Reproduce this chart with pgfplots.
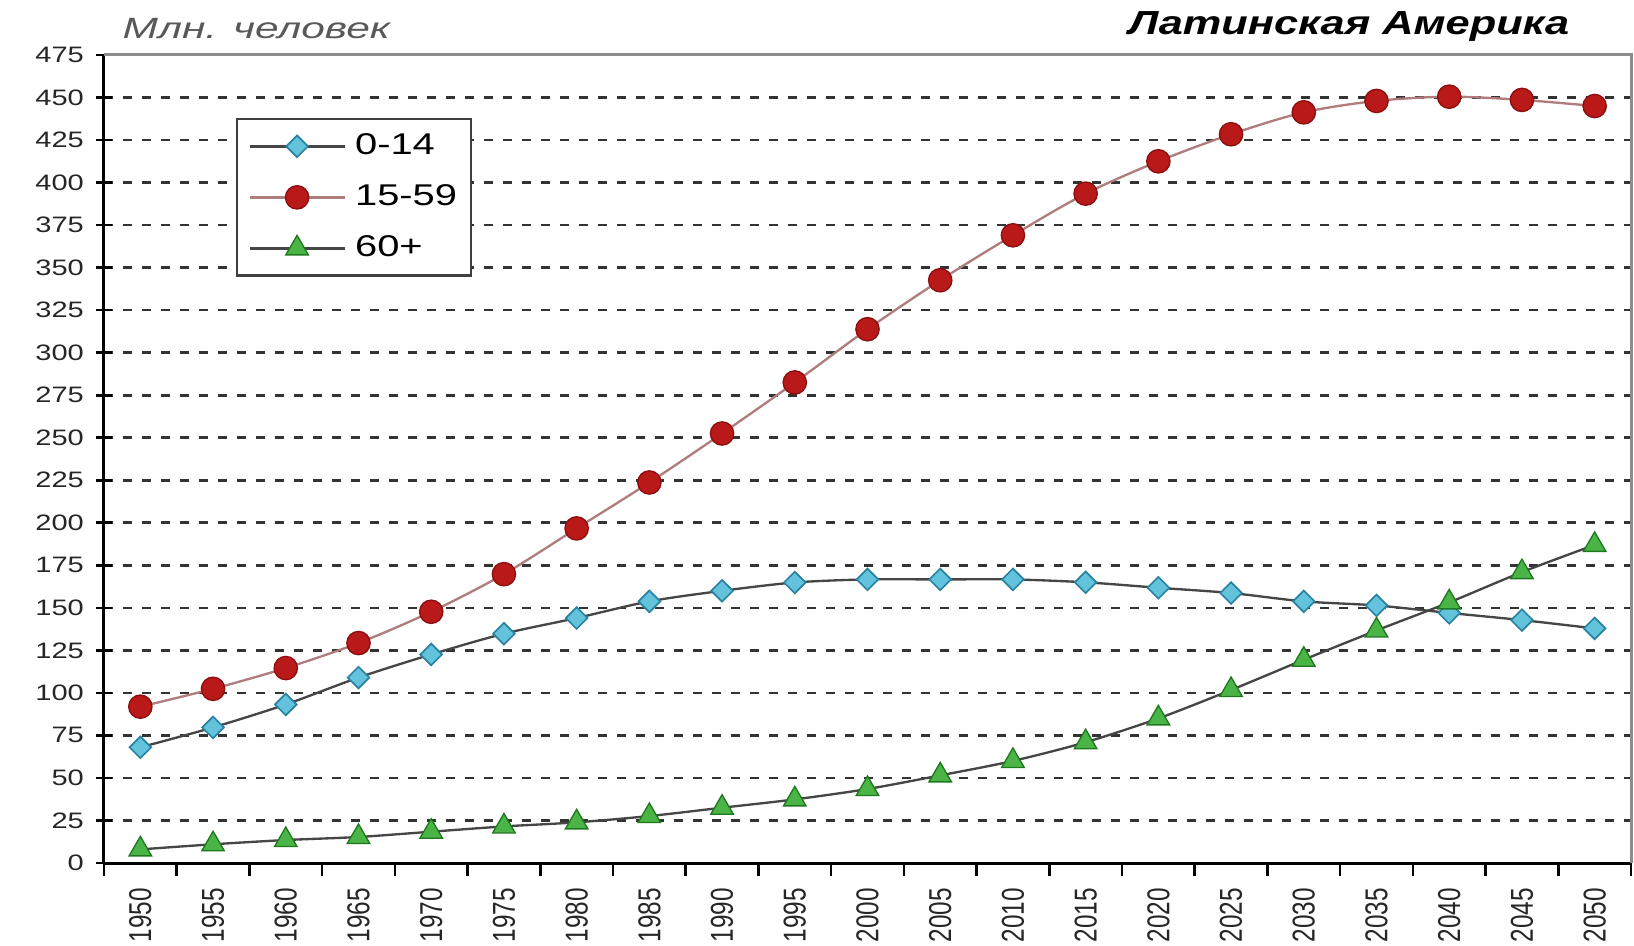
\documentclass[border=0pt]{standalone}
\usepackage{fontspec}
\setmainfont{Liberation Sans}[FakeStretch=1.3]
\newfontfamily\psans{Liberation Sans}
\newfontfamily\legfont{Liberation Sans}[FakeStretch=1.33]
\newfontfamily\capfont{Liberation Sans}[FakeStretch=1.45]
\usepackage{graphicx}
\usepackage{pgfplots}
\usepackage{pgfplotstable}
\pgfplotsset{compat=1.18}
\definecolor{cyanfill}{RGB}{100,195,220}
\definecolor{cyanedge}{RGB}{40,130,160}
\definecolor{redfill}{RGB}{185,25,25}
\definecolor{rededge}{RGB}{140,15,15}
\definecolor{greenfill}{RGB}{75,180,70}
\definecolor{greenedge}{RGB}{30,120,30}
\definecolor{redline}{RGB}{175,125,125}
\definecolor{darkline}{RGB}{70,70,70}

\pgfplotstableread{
year a b c
1950 68.0 91.9 8.0
1955 79.7 102.4 11.0
1960 93.2 114.6 13.5
1965 109.0 129.3 15.3
1970 122.6 147.7 18.4
1975 134.8 169.8 21.5
1980 144.0 196.7 23.9
1985 153.8 223.7 27.6
1990 160.0 252.5 32.5
1995 164.9 282.5 37.4
2000 166.7 313.8 43.5
2005 166.7 342.6 51.5
2010 166.7 369.0 60.0
2015 165.0 393.5 71.0
2020 161.8 412.5 85.0
2025 158.7 428.4 101.7
2030 153.8 441.3 119.5
2035 151.4 448.0 136.7
2040 147.0 450.5 153.2
2045 142.8 448.6 171.0
2050 137.9 445.0 187.0
}\data

\begin{document}
\begin{tikzpicture}
\begin{axis}[
  name=ax,
  scale only axis,
  width=458.1pt, height=242.4pt,
  xmin=1947.5, xmax=2052.5,
  ymin=0, ymax=475,
  axis x line*=bottom, axis y line*=left,
  axis line style={black, line width=0.9pt},
  /pgf/number format/assume math mode=true,
  xtick={1950,1955,...,2050},
  xticklabel={\scalebox{1}[1.3]{\psans\pgfmathprintnumber[fixed,precision=0,1000 sep={}]{\tick}}},
  xticklabel style={rotate=90, anchor=east, font=\fontsize{7.3}{8}\selectfont, color=black!85, xshift=-1.5pt},
  xtick style={draw=none},
  ytick={0,25,...,450},
  extra y ticks={475},
  extra y tick style={grid=none},
  yticklabel style={font=\fontsize{6.7}{8}\selectfont, color=black!85},
  ytick style={draw=black, line width=0.8pt},
  tick align=center,
  major tick length=5pt,
  ymajorgrids,
  major grid style={black!80, line width=0.8pt, dash pattern=on 2.7pt off 3pt},
  legend style={at={(axis description cs:0.0864,0.922)}, anchor=north west,
    draw=black!75, line width=0.7pt, fill=white,
    font=\fontsize{9}{10}\selectfont\legfont,
    inner xsep=3.4pt, inner ysep=0.5pt, row sep=0pt, column sep=2pt,
    nodes={inner xsep=0.8pt, inner ysep=3.15pt, text height=7pt, text depth=2pt}},
  legend cell align=left,
  legend image code/.code={\draw[mark repeat=2,mark phase=2,#1] plot coordinates {(0pt,0pt) (14.25pt,0pt) (28.5pt,0pt)};},
  after end axis/.code={
    \draw[black!45, line width=0.9pt] (rel axis cs:0,1) -- (rel axis cs:1,1) -- (rel axis cs:1,0);
    \foreach \xx in {1947.5,1952.5,...,2052.5} {\draw[black, line width=0.8pt] (axis cs:\xx,0) -- ++(0,-3.8pt);}
  },
]
\addplot[darkline, line width=0.7pt, smooth, tension=0.5, mark=square*, mark size=2.3pt,
  mark options={rotate=45, fill=cyanfill, draw=cyanedge, line width=0.5pt, solid}] table[x=year,y=a] {\data};
\addlegendentry{0-14}
\addplot[redline, line width=0.7pt, smooth, tension=0.5, mark=*, mark size=3.5pt,
  mark options={fill=redfill, draw=rededge, line width=0.4pt, solid}] table[x=year,y=b] {\data};
\addlegendentry{15-59}
\addplot[darkline, line width=0.7pt, smooth, tension=0.5, mark=triangle*, mark size=3.9pt,
  mark options={fill=greenfill, draw=greenedge, line width=0.4pt, solid}] table[x=year,y=c] {\data};
\addlegendentry{60+}
\end{axis}
\node[anchor=west, font=\fontsize{8.8}{10}\selectfont\capfont\itshape, text=black!65, inner sep=0pt]
  at ([shift={(5.4pt,7.8pt)}]ax.north west) {Млн. человек};
\node[anchor=east, font=\fontsize{10}{12}\selectfont\bfseries\itshape, inner sep=0pt]
  at ([shift={(-18.3pt,8.7pt)}]ax.north east) {Латинская Америка};
\pgfresetboundingbox
\path ([shift={(-31.2pt,-24.9pt)}]ax.south west) rectangle ([shift={(0.9pt,16.5pt)}]ax.north east);
\end{tikzpicture}
\end{document}
